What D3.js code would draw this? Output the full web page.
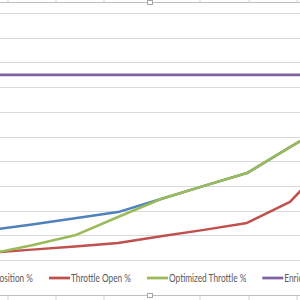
<!DOCTYPE html>
<html>
<head>
<meta charset="utf-8">
<script src="https://cdn.jsdelivr.net/npm/d3@7"></script>
<style>
  body { margin: 0; background: #fff; }
  svg { display: block; }
</style>
</head>
<body>
<div id="chart"></div>
<script>
// chart data (percent)
var categories = [1, 2, 3, 4, 5, 6, 7, 8, 9]
var throttlePosition = [12, 14.4, 16.9, 19.4, 24.7, 30, 35.2, 45.7, 56]
var throttleOpen = [2.9, 4.2, 5.5, 6.9, 9.6, 12.2, 15, 23.5, 42]
var optimizedThrottle = [2.4, 6, 10, 17.4, 24.7, 30, 35.2, 45.7, 56]
var enrichment = [75, 75, 75, 75, 75, 75, 75, 75, 75]
var yTicks = [0, 10, 20, 30, 40, 50, 60, 70, 80, 90, 100]
var seriesNames = ["Throttle Position %", "Throttle Open %", "Optimized Throttle %", "Enrichment %"]
var seriesColors = ["#4F81BD", "#C0504D", "#9BBB59", "#8064A2"]

var W = 300, H = 300

var svg = d3.select("#chart")
    .append("svg")
    .attr("width", W)
    .attr("height", H)

// sheet cells peeking out above and below the chart object
var cellX = [8, 56, 104, 200, 249, 297]
svg.selectAll(".cellTop")
    .data(cellX)
    .enter()
    .append("line")
    .attr("x1", d => d).attr("x2", d => d)
    .attr("y1", 0).attr("y2", 2)
    .attr("stroke", "#d4d4d4")
svg.selectAll(".cellBot")
    .data(cellX)
    .enter()
    .append("line")
    .attr("x1", d => d).attr("x2", d => d)
    .attr("y1", 296).attr("y2", 300)
    .attr("stroke", "#d4d4d4")

// chart border
svg.append("line").attr("x1", 0).attr("x2", W).attr("y1", 2.5).attr("y2", 2.5)
    .attr("stroke", "#bfbfbf")
svg.append("line").attr("x1", 0).attr("x2", W).attr("y1", 295.5).attr("y2", 295.5)
    .attr("stroke", "#bfbfbf")
// selection handles
;[0.5, 293.5].forEach(function(y) {
    svg.append("rect")
        .attr("x", 147.5).attr("y", y)
        .attr("width", 5).attr("height", 4)
        .attr("fill", "#fff")
        .attr("stroke", "#a6a6a6")
})

// scales
var x = d3.scalePoint()
    .domain(categories)
    .range([-11, 333])

var y = d3.scaleLinear()
    .domain([0, 100])
    .range([260, 13])

// gridlines
svg.append("g")
    .selectAll("line")
    .data(yTicks)
    .enter()
    .append("line")
    .attr("x1", 0)
    .attr("x2", W)
    .attr("y1", d => Math.round(y(d)) + 0.5)
    .attr("y2", d => Math.round(y(d)) + 0.5)
    .attr("stroke", "#d9d9d9")

var line = d3.line()
    .x((d, i) => x(categories[i]))
    .y(d => y(d))

var series = [throttlePosition, throttleOpen, optimizedThrottle, enrichment]
series.forEach(function(vals, k) {
    svg.append("path")
        .datum(vals)
        .attr("d", line)
        .attr("fill", "none")
        .attr("stroke", seriesColors[k])
        .attr("stroke-width", k == 3 ? 2.75 : 2.5)
        .attr("stroke-linejoin", "round")
})

// legend
var legend = svg.append("g").attr("transform", "translate(0,278)")
var probe = legend.append("text")
    .style("font-family", "Lato, 'Open Sans', sans-serif")
    .style("font-size", "11px")
    .text("Throttle Open %")
var squeeze = 60 / probe.node().getComputedTextLength()
probe.remove()

function textW(s) {
    var t = legend.append("text")
        .style("font-family", "Lato, 'Open Sans', sans-serif")
        .style("font-size", "11px")
        .text(s)
    var w = t.node().getComputedTextLength() * squeeze
    t.remove()
    return w
}

var widths = seriesNames.map(textW)
var starts = []
starts[1] = 49
starts[0] = starts[1] - 17 - widths[0] - 21
starts[2] = starts[1] + 21 + widths[1] + 17
starts[3] = starts[2] + 21 + widths[2] + 17

seriesNames.forEach(function(name, k) {
    legend.append("line")
        .attr("x1", starts[k])
        .attr("x2", starts[k] + 21)
        .attr("y1", 0)
        .attr("y2", 0)
        .attr("stroke", seriesColors[k])
        .attr("stroke-width", 2.75)
    legend.append("text")
        .attr("x", starts[k] + 22)
        .attr("y", 4)
        .attr("textLength", widths[k])
        .attr("lengthAdjust", "spacingAndGlyphs")
        .style("font-family", "Lato, 'Open Sans', sans-serif")
        .style("font-size", "11px")
        .attr("fill", "#595959")
        .text(name)
})
</script>
</body>
</html>
